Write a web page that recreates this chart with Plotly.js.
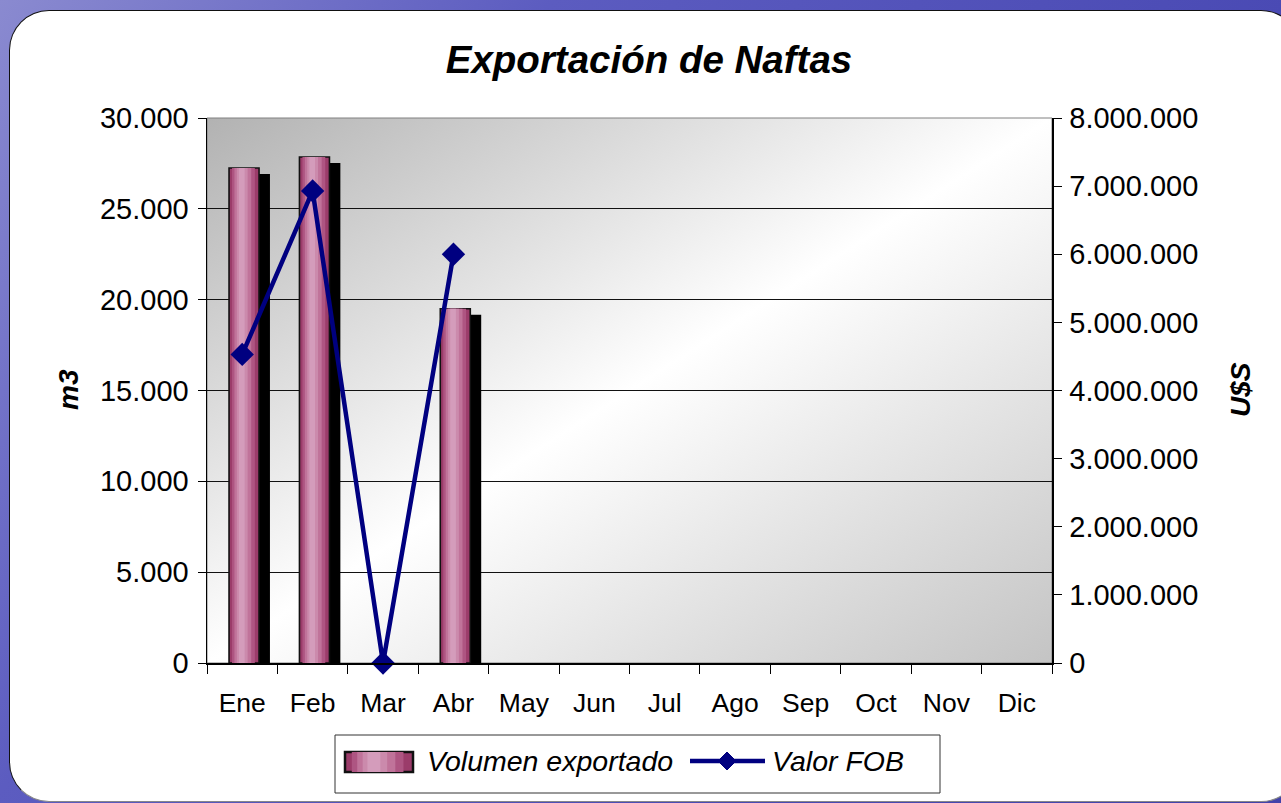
<!DOCTYPE html>
<html>
<head>
<meta charset="utf-8">
<script src="https://cdn.plot.ly/plotly-3.0.1.min.js"></script>
<style>
  html, body { margin:0; padding:0; width:1281px; height:803px; overflow:hidden; }
  body { background: linear-gradient(125deg, #8a8ad0 0%, #5c5cc0 30%, #4a4ab4 70%, #4242aa 100%); position:relative; }
  #panel { position:absolute; left:9px; top:10px; width:1290px; height:790px; background:#fff;
           border:1.5px solid #111; border-bottom-color:#888; border-radius:40px; }
  #chart { position:absolute; left:0; top:0; width:1281px; height:803px; }
</style>
</head>
<body>
<div id="panel"></div>
<div id="chart"></div>
<script>
// ---- data ----
const months = ['Ene','Feb','Mar','Abr','May','Jun','Jul','Ago','Sep','Oct','Nov','Dic'];
const volumen = [27250, 27850, 0, 19500, null, null, null, null, null, null, null, null]; // m3
const valorFOB = [4530000, 6930000, 0, 6000000, null, null, null, null, null, null, null, null]; // U$S
const titleText = 'Exportación de Naftas';
const leftTitle = 'm3';
const rightTitle = 'U$S';
const seriesNames = ['Volumen exportado', 'Valor FOB'];

// ---- styling ----
const FONT = 'Liberation Sans, Arial, sans-serif';
const BW = 0.426;       // bar width (category units)
const B0 = -0.187;      // bar left offset
const shadowOff = 0.155;
const shadowDrop = 330;
const lineColor = '#000080';

const layers = [
  {a:0.00, b:1.00, c:'#9b3c6a', lw:1.6},
  {a:0.10, b:0.86, c:'#ae5582', lw:0},
  {a:0.18, b:0.74, c:'#c0739a', lw:0},
  {a:0.26, b:0.62, c:'#cb8aac', lw:0},
  {a:0.33, b:0.52, c:'#d49cbb', lw:0}
];

const traces = [];
traces.push({
  type:'bar', x:months, y:volumen.map(v => (v ? v - shadowDrop : null)),
  offset: B0 + shadowOff, width: BW, marker:{color:'#000', line:{width:0}},
  showlegend:false, hoverinfo:'skip'
});
layers.forEach((L, i) => {
  traces.push({
    type:'bar', x:months, y:volumen.map(v => (v ? v : null)), name: seriesNames[0],
    offset: B0 + L.a * BW, width: (L.b - L.a) * BW,
    marker:{color:L.c, line:{color:'#111', width:L.lw}},
    showlegend:false, hoverinfo:'skip'
  });
});
traces.push({
  type:'scatter', mode:'lines+markers', x:months, y:valorFOB, yaxis:'y2',
  name: seriesNames[1], connectgaps:false, cliponaxis:false,
  line:{color:lineColor, width:4.5},
  marker:{symbol:'diamond', size:18, color:lineColor},
  showlegend:false, hoverinfo:'skip'
});

const gradSvg = 'data:image/svg+xml;utf8,' + encodeURIComponent(
  '<svg xmlns="http://www.w3.org/2000/svg" width="100" height="100" preserveAspectRatio="none">' +
  '<defs><linearGradient id="g" x1="0" y1="0" x2="1" y2="1">' +
  '<stop offset="0" stop-color="#b2b2b2"/><stop offset="0.5" stop-color="#ffffff"/>' +
  '<stop offset="1" stop-color="#c4c4c4"/></linearGradient></defs>' +
  '<rect width="100" height="100" fill="url(#g)"/></svg>');

// plot-area pixel geometry (for legend placement in paper coords)
const PL = 207, PR = 1052, PT = 118, PB = 663;
const px = v => (v - PL) / (PR - PL);
const py = v => (PB - v) / (PB - PT);

// custom legend (box, swatch, line symbol)
const legShapes = [
  {type:'rect', xref:'paper', yref:'paper', x0:px(335), x1:px(940), y0:py(793), y1:py(735),
   line:{color:'#333', width:1}, fillcolor:'#fff', layer:'above'}
];
const swL = 345, swR = 413, swT = 752, swB = 772;
layers.forEach(L => {
  legShapes.push({type:'rect', xref:'paper', yref:'paper',
    x0:px(swL + L.a*(swR-swL)), x1:px(swL + L.b*(swR-swL)), y0:py(swB), y1:py(swT),
    line:{color:'#111', width:L.lw ? 2.5 : 0}, fillcolor:L.c, layer:'above'});
});
legShapes.push({type:'line', xref:'paper', yref:'paper', x0:px(690), x1:px(765), y0:py(761), y1:py(761),
  line:{color:lineColor, width:4.5}, layer:'above'});
const dcx = px(727), dcy = py(761), ddx = 9/(PR-PL), ddy = 9/(PB-PT);
legShapes.push({type:'path', xref:'paper', yref:'paper',
  path:`M ${dcx-ddx} ${dcy} L ${dcx} ${dcy+ddy} L ${dcx+ddx} ${dcy} L ${dcx} ${dcy-ddy} Z`,
  fillcolor:lineColor, line:{color:lineColor, width:1}, layer:'above'});

const layout = {
  width:1281, height:803,
  margin:{l:PL, r:1281-PR, t:PT, b:803-PB},
  paper_bgcolor:'rgba(0,0,0,0)', plot_bgcolor:'rgba(0,0,0,0)',
  separators:',.',
  barmode:'overlay',
  showlegend:false,
  font:{family:FONT, size:26, color:'#000'},
  title:{text:'<b><i>'+titleText+'</i></b>', font:{family:FONT, size:38.5, color:'#000'},
         xref:'container', x:649/1281, xanchor:'center', yref:'container', y:1-60/803, yanchor:'middle'},
  xaxis:{type:'category', range:[-0.5, 11.5], tickson:'boundaries', ticks:'outside', ticklen:9,
         tickcolor:'#000', showline:true, linecolor:'#000', linewidth:1.5, showgrid:false,
         tickfont:{family:FONT, size:26.5}, ticklabelstandoff:16, fixedrange:true},
  yaxis:{range:[0, 30000], dtick:5000, tickformat:',.0f', ticks:'outside', ticklen:8, tickcolor:'#000',
         showline:true, linecolor:'#000', linewidth:1.5, showgrid:true, gridcolor:'#111', gridwidth:1,
         zeroline:false, tickfont:{family:FONT, size:29}, ticklabelstandoff:3, fixedrange:true},
  yaxis2:{overlaying:'y', side:'right', range:[0, 8000000], dtick:1000000, tickformat:',.0f',
          ticks:'outside', ticklen:8, tickcolor:'#000', showline:true, linecolor:'#000', linewidth:1.5,
          showgrid:false, zeroline:false, tickfont:{family:FONT, size:29}, ticklabelstandoff:2, fixedrange:true},
  images:[{source:gradSvg, xref:'paper', yref:'paper', x:0, y:1, sizex:1, sizey:1,
           xanchor:'left', yanchor:'top', sizing:'stretch', layer:'below'}],
  shapes:[{type:'rect', xref:'paper', yref:'paper', x0:0, x1:1, y0:0, y1:1,
           line:{color:'#808080', width:1}, fillcolor:'rgba(0,0,0,0)', layer:'below'}].concat(legShapes),
  annotations:[
    {text:'<b><i>'+leftTitle+'</i></b>', xref:'paper', yref:'paper', x:px(68), y:py(390),
     textangle:-90, showarrow:false, font:{family:FONT, size:28}, xanchor:'center', yanchor:'middle'},
    {text:'<b><i>'+rightTitle+'</i></b>', xref:'paper', yref:'paper', x:px(1240), y:py(390),
     textangle:-90, showarrow:false, font:{family:FONT, size:28}, xanchor:'center', yanchor:'middle'},
    {text:'<i>'+seriesNames[0]+'</i>', xref:'paper', yref:'paper', x:px(425), y:py(761),
     showarrow:false, font:{family:FONT, size:28.5}, xanchor:'left', yanchor:'middle'},
    {text:'<i>'+seriesNames[1]+'</i>', xref:'paper', yref:'paper', x:px(770), y:py(761),
     showarrow:false, font:{family:FONT, size:28.5}, xanchor:'left', yanchor:'middle'}
  ]
};

Plotly.newPlot('chart', traces, layout, {staticPlot:true, displayModeBar:false});
</script>
</body>
</html>
